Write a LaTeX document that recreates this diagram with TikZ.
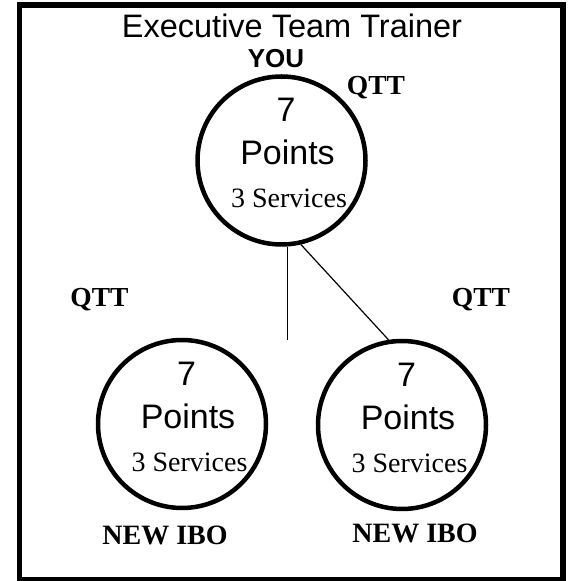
\documentclass[tikz,border=0pt]{standalone}
\usepackage{fontspec}
\setmainfont{Liberation Serif}
\setsansfont{Liberation Sans}
\tikzset{
    % member circle
    member/.style = {draw, circle, line width=4.5pt, minimum size=168pt, inner sep=0pt},
    % text styles, set on the baseline
    sans/.style = {anchor=base, inner sep=0pt, font=\sffamily\fontsize{#1}{#1}\selectfont},
    serif/.style = {anchor=base, inner sep=0pt, font=\fontsize{#1}{#1}\selectfont},
    tag/.style = {anchor=base, inner sep=0pt, font=\bfseries\fontsize{#1}{#1}\selectfont},
    % connector style
    link/.style = {line width=1.2pt}
}

\begin{document}
\begin{tikzpicture}[x=1pt, y=1pt]
    \useasboundingbox (0,0) rectangle (570,581);
    % outer frame
    \draw[line width=5.5pt] (19.7,1) rectangle (563,575.8);
    % heading
    \node[sans=32.5] (title) at (292,543) {Executive Team Trainer};
    \node[sans=26] (youlabel) at (276,513) {\bfseries YOU};
    % the three circles
    \node[member] (you) at (281.5,420.5) {};
    \node[member] (ibo1) at (182,157) {};
    \node[member] (ibo2) at (402,156) {};
    % text in each circle
    \foreach \c in {you, ibo1, ibo2} {
        \node[sans=34] (\c-num) at ([shift={(4.5,38.5)}]\c.center) {7};
        \node[sans=34] (\c-pts) at ([shift={(6,-4.5)}]\c.center) {Points};
        \node[serif=28] (\c-srv) at ([shift={(7.5,-47.5)}]\c.center) {3 Services};
    }
    % QTT and NEW IBO labels
    \node[tag=27.5] (qtt top) at (376,486) {QTT};
    \node[tag=27.5] (qtt left) at (99.5,274) {QTT};
    \node[tag=27.5] (qtt right) at (481,274) {QTT};
    \node[tag=28] (new1) at (165,36) {NEW IBO};
    \node[tag=28] (new2) at (415,38) {NEW IBO};
    % connectors
    \coordinate (stub) at (you.-86 |- 0,241);
    \draw[link] (you.-86) -- (stub);
    \draw[link] (you.-77) -- (ibo2.99);
\end{tikzpicture}
\end{document}
